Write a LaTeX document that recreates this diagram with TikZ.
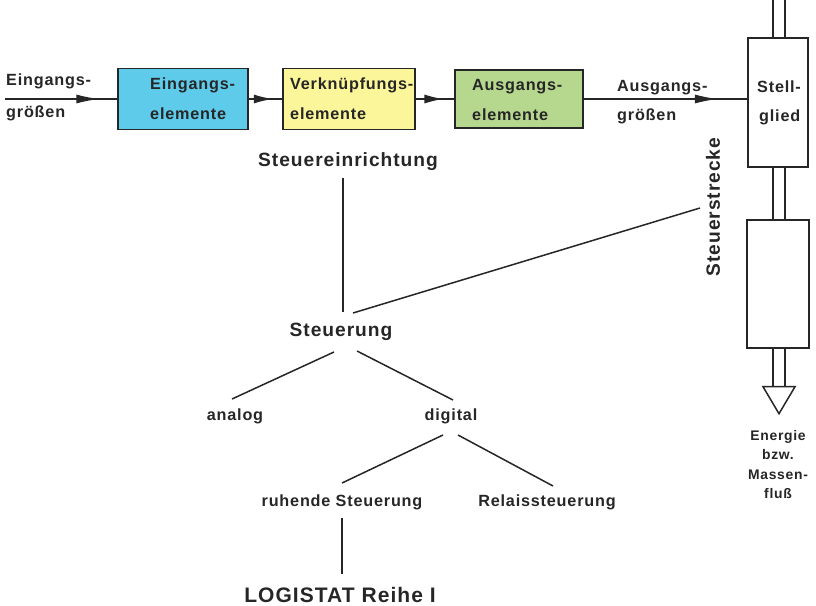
\documentclass[tikz,border=0pt]{standalone}
\usepackage{fontspec}
\setmainfont{Liberation Sans}[LetterSpace=5]
\usetikzlibrary{arrows.meta,decorations.markings,calc}
\definecolor{cblue}{HTML}{5ECBEB}
\definecolor{cyellow}{HTML}{FCF69A}
\definecolor{cgreen}{HTML}{B6D88E}
\definecolor{ink}{HTML}{262626}
\begin{document}
\begin{tikzpicture}[x=1pt,y=-1pt,
  txt/.style={font=\bfseries\fontsize{16.2}{18}\selectfont, inner sep=0pt, text=ink},
  big/.style={font=\bfseries\fontsize{19.2}{22}\selectfont, inner sep=0pt, text=ink},
  huge/.style={font=\bfseries\fontsize{21}{24}\selectfont, inner sep=0pt, text=ink},
  small/.style={font=\bfseries\fontsize{13.9}{20}\selectfont, inner sep=0pt, text=ink, align=center},
  colbox/.style={draw=ink, line width=1.4pt, inner sep=0pt, minimum width=#1},
  plainbox/.style={draw=ink, line width=1.4pt, fill=white, inner sep=0pt},
  conn/.style={draw=ink, line width=1.5pt},
  midarrow/.style={postaction={decorate}, decoration={markings,
     mark=at position #1 with {\arrow{Latex[length=23pt,width=9pt]}}}},
  shortarrow/.style={postaction={decorate}, decoration={markings,
     mark=at position #1 with {\arrow{Latex[length=19pt,width=9pt]}}}}
]
\useasboundingbox (0,0) rectangle (816,605);

% boxes
\node[colbox=130pt, minimum height=61pt, fill=cblue] (b1) at (183,99) {};
\node[colbox=132pt, minimum height=61pt, fill=cyellow] (b2) at (349,99) {};
\node[colbox=128pt, minimum height=58pt, fill=cgreen] (b3) at (519,99) {};
\node[plainbox, minimum width=60pt, minimum height=129pt] (sg) at (778,102.5) {};
\node[plainbox, minimum width=62pt, minimum height=128pt] (lb) at (778,284) {};

% box texts
\node[txt, anchor=base west] (t1a) at (150,89) {Eingangs-};
\node[txt, anchor=base west] (t1b) at (150,119) {elemente};
\node[txt, anchor=base west] (t2a) at (290,89) {Verknüpfungs-};
\node[txt, anchor=base west] (t2b) at (290,119) {elemente};
\node[txt, anchor=base west] (t3a) at (472,90) {Ausgangs-};
\node[txt, anchor=base west] (t3b) at (472,120) {elemente};
\node[txt, anchor=base west] (sga) at (757,92) {Stell-};
\node[txt, anchor=base west] (sgb) at (759,121) {glied};

% side labels
\node[txt, anchor=base west] (ina) at (6,85) {Eingangs-};
\node[txt, anchor=base west] (inb) at (6,117) {größen};
\node[txt, anchor=base west] (outa) at (617,91) {Ausgangs-};
\node[txt, anchor=base west] (outb) at (617,120) {größen};

% flow connectors
\coordinate (inl) at (5,99);
\path[conn, midarrow=0.84] (inl) -- (b1.west);
\path[conn, shortarrow=0.72] (b1.east) -- (b2.west);
\path[conn, shortarrow=0.72] (b2.east) -- (b3.west);
\path[conn, midarrow=0.82] (b3.east) -- (b3.east -| sg.west);

% pipes
\draw[conn] ($(sg.north)+(-5,0)$) -- ++(0,-40);
\draw[conn] ($(sg.north)+(7,0)$) -- ++(0,-40);
\draw[conn] ($(sg.south)+(-5,0)$) -- ($(lb.north)+(-5,0)$);
\draw[conn] ($(sg.south)+(7,0)$) -- ($(lb.north)+(7,0)$);
\draw[conn] ($(lb.south)+(-5,0)$) -- ($(lb.south)+(-5,38)$);
\draw[conn] ($(lb.south)+(7,0)$) -- ($(lb.south)+(7,38)$);
\draw[conn, fill=white, line join=miter] ($(lb.south)+(-15,38)$) -- ($(lb.south)+(17,38)$) -- ($(lb.south)+(1,65)$) -- cycle;

\node[small, anchor=north] (en) at (778,430) {Energie\\[-0.5pt] bzw.\\[-0.5pt] Massen-\\[-0.5pt] fluß};

% tree
\node[big, anchor=base] (se) at (348,166) {Steuereinrichtung};
\node[big, rotate=90] (sstr) at (713,207) {Steuerstrecke};
\node[big, anchor=base] (steu) at (341,336) {Steuerung};
\node[txt, anchor=base] (an) at (235,420) {analog};
\node[txt, anchor=base] (di) at (451,420) {digital};
\node[txt, anchor=base] (ru) at (342,506) {ruhende Steuerung};
\node[txt, anchor=base] (re) at (547,506) {Relaissteuerung};
\node[huge, anchor=base] (lo) at (340,602) {LOGISTAT Reihe I};

\draw[conn] ($(se.base)+(-5,12)$) -- ($(steu.base)+(2,-24)$);
\draw[conn] ($(sstr.center)+(-13,1)$) -- ($(steu.base)+(12,-23)$);
\draw[conn] ($(steu.base)+(-7,16)$) -- ($(an.base)+(-3,-21)$);
\draw[conn] ($(steu.base)+(16,15)$) -- ($(di.base)+(2,-20)$);
\draw[conn] ($(di.base)+(-8,15)$) -- ($(ru.base)+(0,-23)$);
\draw[conn] ($(di.base)+(7,15)$) -- ($(re.base)+(6,-20)$);
\draw[conn] ($(ru.base)+(0,12)$) -- ($(lo.base)+(2,-28)$);
\end{tikzpicture}
\end{document}
